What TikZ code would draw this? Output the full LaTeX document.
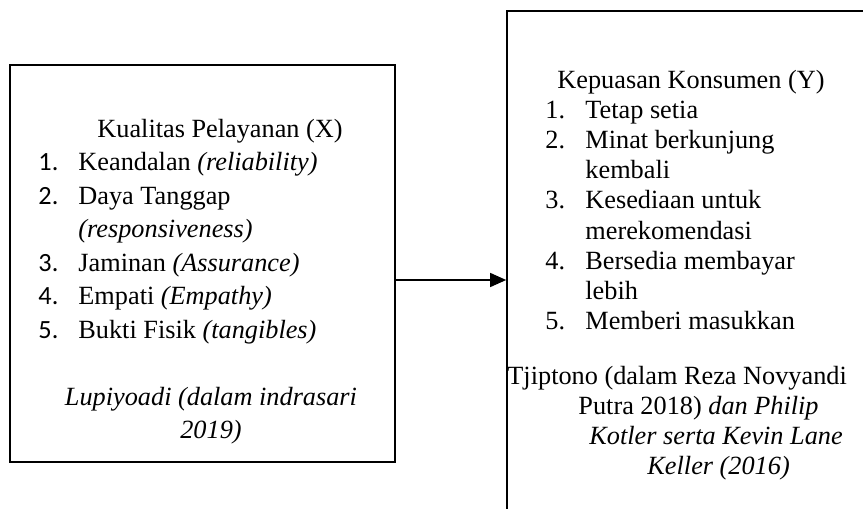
\documentclass[tikz,border=0pt]{standalone}
\usepackage{fontspec}
\setmainfont{Liberation Serif}
\newfontfamily\numfont{Carlito}
\usetikzlibrary{arrows.meta,fit}
\tikzset{
  boxstyle/.style={draw=black, line width=0.75pt, inner sep=0pt},
  txt/.style={inner sep=0pt, anchor=base west, font=\fontsize{12}{14}\selectfont},
  ctxt/.style={inner sep=0pt, anchor=base, font=\fontsize{12}{14}\selectfont},
  conn/.style={line width=0.6pt, -{Triangle[length=7.3pt,width=6.4pt]}}
}
\begin{document}
\begin{tikzpicture}[x=0.4566pt, y=-0.4566pt]
\useasboundingbox (0,0) rectangle (863,508);
\begin{scope}
\clip (0,0) rectangle (863,508);
% boxes
\node[boxstyle, fit={(10,65) (395,462)}] (lbox) {};
\node[boxstyle, fit={(507,11) (905,560)}] (rbox) {};

% left box text
\node[txt] (lt) at (97,137) {Kualitas Pelayanan (X)};
\node[txt] (ln1) at (38,170.5) {\numfont 1.};
\node[txt] (li1) at (78,170.5) {Keandalan \textit{(reliability)}};
\node[txt] (ln2) at (38,204) {\numfont 2.};
\node[txt] (li2) at (78,204) {Daya Tanggap};
\node[txt] (li2b) at (78,237.5) {\textit{(responsiveness)}};
\node[txt] (ln3) at (38,271) {\numfont 3.};
\node[txt] (li3) at (78,271) {Jaminan \textit{(Assurance)}};
\node[txt] (ln4) at (38,304.5) {\numfont 4.};
\node[txt] (li4) at (78,304.5) {Empati \textit{(Empathy)}};
\node[txt] (ln5) at (38,338) {\numfont 5.};
\node[txt] (li5) at (78,338) {Bukti Fisik \textit{(tangibles)}};
\node[ctxt] (lsrc1) at (211,405) {\textit{Lupiyoadi (dalam indrasari}};
\node[ctxt] (lsrc2) at (211,438) {\textit{2019)}};

% right box text
\node[txt] (rt) at (557,88) {Kepuasan Konsumen (Y)};
\node[txt] (rn1) at (545,118.2) {1.};
\node[txt] (ri1) at (585,118.2) {Tetap setia};
\node[txt] (rn2) at (545,148.4) {2.};
\node[txt] (ri2) at (585,148.4) {Minat berkunjung};
\node[txt] (ri2b) at (585,178.6) {kembali};
\node[txt] (rn3) at (545,208.8) {3.};
\node[txt] (ri3) at (585,208.8) {Kesediaan untuk};
\node[txt] (ri3b) at (585,239) {merekomendasi};
\node[txt] (rn4) at (545,269.2) {4.};
\node[txt] (ri4) at (585,269.2) {Bersedia membayar};
\node[txt] (ri4b) at (585,299.4) {lebih};
\node[txt] (rn5) at (545,329.6) {5.};
\node[txt] (ri5) at (585,329.6) {Memberi masukkan};
\node[txt] (rs1) at (507,384) {Tjiptono (dalam Reza Novyandi};
\node[txt] (rs2) at (578,414) {Putra 2018) \textit{dan Philip}};
\node[txt] (rs3) at (589,444) {\textit{Kotler serta Kevin Lane}};
\node[txt] (rs4) at (647,474) {\textit{Keller (2016)}};

% connector
\coordinate (ay) at (0,280);
\draw[conn] (lbox.east |- ay) -- (rbox.west |- ay);
\end{scope}
\end{tikzpicture}
\end{document}
